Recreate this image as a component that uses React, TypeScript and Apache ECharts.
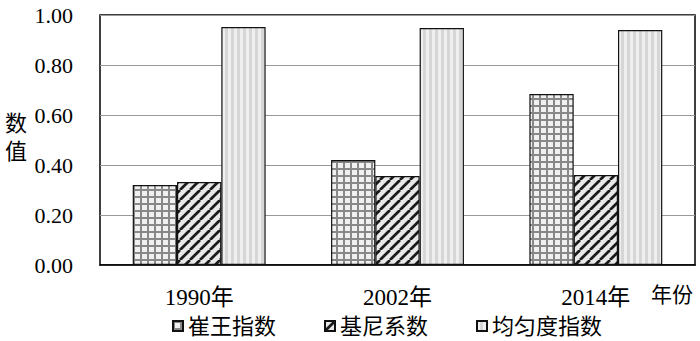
import React, { useEffect, useRef } from "react";
import * as echarts from "echarts";

const categories = ["1990年", "2002年", "2014年"];
const seriesNames = ["崔王指数", "基尼系数", "均匀度指数"];
const cuiWang = [0.32, 0.42, 0.684];
const gini = [0.332, 0.356, 0.36];
const evenness = [0.952, 0.948, 0.94];
const yTicks = [0, 0.2, 0.4, 0.6, 0.8, 1.0];

const FONT = "'Liberation Serif', 'Times New Roman', 'Noto Sans CJK SC', serif";

function makePattern(kind: string) {
  const c = document.createElement("canvas");
  let w = 7, h = 7;
  if (kind === "grid") {
    w = 7; h = 7;
    c.width = w; c.height = h;
    const g = c.getContext("2d")!;
    g.fillStyle = "#f0f0f0";
    g.fillRect(0, 0, w, h);
    g.fillStyle = "#888888";
    g.fillRect(0, 0, 2, h);
    g.fillRect(0, 0, w, 2);
  } else if (kind === "diag") {
    w = 10; h = 10;
    c.width = w; c.height = h;
    const g = c.getContext("2d")!;
    g.fillStyle = "#e8e8e8";
    g.fillRect(0, 0, w, h);
    g.strokeStyle = "#1a1a1a";
    g.lineWidth = 2.7;
    for (const o of [-w, 0, w]) {
      g.beginPath();
      g.moveTo(o, h);
      g.lineTo(o + w, 0);
      g.stroke();
    }
  } else {
    w = 6; h = 6;
    c.width = w; c.height = h;
    const g = c.getContext("2d")!;
    g.fillStyle = "#d6d6d6";
    g.fillRect(0, 0, w, h);
    g.fillStyle = "#efefef";
    g.fillRect(0, 0, 3, h);
  }
  return { image: c, repeat: "repeat", imageWidth: w, imageHeight: h } as any;
}

export default function App() {
  const ref = useRef<HTMLDivElement>(null);
  useEffect(() => {
    document.body.style.margin = "0";
    if (!ref.current) return;
    const chart = echarts.init(ref.current, undefined, { renderer: "svg" });
    const patterns = [makePattern("grid"), makePattern("diag"), makePattern("vert")];
    const values = [cuiWang, gini, evenness];
    chart.setOption({
      animation: false,
      backgroundColor: "#fff",
      grid: {
        left: 100,
        right: 5,
        top: 15,
        bottom: 76,
        show: true,
        borderColor: "#000",
        borderWidth: 1.5,
        containLabel: false,
      },
      legend: {
        data: seriesNames,
        left: 172,
        top: 315,
        padding: 0,
        itemWidth: 10,
        itemHeight: 10,
        itemGap: 48,
        icon: "rect",
        textStyle: { fontFamily: FONT, fontSize: 22, color: "#000" },
      },
      xAxis: {
        type: "category",
        data: categories,
        axisLine: { show: true, lineStyle: { color: "#000", width: 1.5 } },
        axisTick: { show: false },
        axisLabel: { margin: 21, fontFamily: FONT, fontSize: 23, color: "#000" },
      },
      yAxis: {
        type: "value",
        min: yTicks[0],
        max: yTicks[yTicks.length - 1],
        interval: 0.2,
        axisLine: { show: false },
        axisTick: { show: false },
        splitLine: { show: true, lineStyle: { color: "#999", width: 1 } },
        axisLabel: {
          margin: 27,
          fontFamily: FONT,
          fontSize: 22,
          color: "#000",
          formatter: (v: number) => v.toFixed(2),
        },
      },
      graphic: [
        {
          type: "text",
          left: 5,
          top: 109,
          style: { text: "数\n值", font: `22px ${FONT}`, lineHeight: 28, fill: "#000" },
        },
        {
          type: "text",
          left: 651,
          top: 284,
          style: { text: "年份", font: `21px ${FONT}`, fill: "#000" },
        },
      ],
      series: seriesNames.map((name, i) => ({
        name,
        type: "bar",
        data: values[i],
        barGap: "0%",
        barCategoryGap: "33%",
        itemStyle: { color: patterns[i], borderColor: "#111", borderWidth: 1.2 },
      })),
    });
    return () => chart.dispose();
  }, []);
  return <div ref={ref} style={{ width: 700, height: 341 }} />;
}
